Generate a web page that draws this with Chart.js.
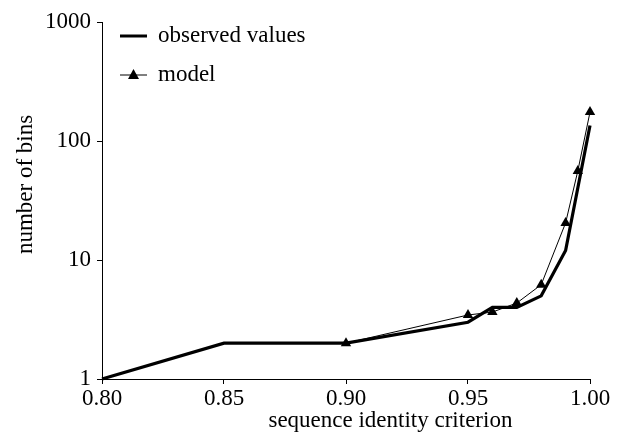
<!DOCTYPE html>
<html lang="en">
<head>
  <meta charset="UTF-8" />
  <title>number of bins vs sequence identity criterion</title>
  <script src="https://cdn.jsdelivr.net/npm/chart.js"></script>
  <style>
    body {
      margin: 0;
      background: #fff;
    }
    .chart-box {
      width: 631px;
      height: 436px;
    }
  </style>
</head>
<body>
  <div class="chart-box">
    <canvas id="binChart"></canvas>
  </div>

  <script>
    // values
    const observedX = [0.80, 0.85, 0.90, 0.95, 0.96, 0.97, 0.98, 0.99, 1.00];
    const observedY = [1, 2, 2, 3, 4, 4, 5, 12, 135];
    const modelX = [0.90, 0.95, 0.96, 0.97, 0.98, 0.99, 0.995, 1.00];
    const modelY = [2, 3.45, 3.65, 4.35, 6.2, 20.5, 56, 175];
    const xTicks = [0.80, 0.85, 0.90, 0.95, 1.00];
    const yTicks = [1, 10, 100, 1000];

    const FONT = '"Liberation Serif", "Times New Roman", serif';
    Chart.defaults.font.family = FONT;
    Chart.defaults.color = '#000';

    const toPoints = (xs, ys) => xs.map((x, i) => ({ x: x, y: ys[i] }));

    // legend + axis titles drawn by hand (the original has them off-centre)
    const extras = {
      id: 'extras',
      afterDatasetsDraw(chart) {
        const c = chart.ctx;
        const a = chart.chartArea;
        const x0 = a.left + 18, x1 = a.left + 45;
        const rows = [
          { y: a.top + 14, text: 'observed values', width: 3, tri: false },
          { y: a.top + 53, text: 'model', width: 1, tri: true }
        ];
        c.save();
        c.strokeStyle = '#000';
        c.fillStyle = '#000';
        c.font = '23px ' + FONT;
        c.textBaseline = 'middle';
        rows.forEach(r => {
          c.lineWidth = r.width;
          c.beginPath();
          c.moveTo(x0, r.y);
          c.lineTo(x1, r.y);
          c.stroke();
          if (r.tri) {
            const cx = (x0 + x1) / 2;
            c.beginPath();
            c.moveTo(cx, r.y - 6);
            c.lineTo(cx + 5.5, r.y + 4);
            c.lineTo(cx - 5.5, r.y + 4);
            c.closePath();
            c.fill();
          }
          c.fillText(r.text, x1 + 11, r.y);
        });

        // x title
        c.textAlign = 'center';
        c.fillText('sequence identity criterion', a.left + (a.right - a.left) * 0.591, a.bottom + 42);

        // y title, rotated
        c.translate(26, a.top + (a.bottom - a.top) * 0.455);
        c.rotate(-Math.PI / 2);
        c.fillText('number of bins', 0, 0);
        c.restore();
      }
    };

    new Chart(document.getElementById('binChart'), {
      type: 'line',
      data: {
        datasets: [
          {
            label: 'observed values',
            data: toPoints(observedX, observedY),
            borderColor: '#000',
            borderWidth: 3.2,
            pointRadius: 0,
            tension: 0,
            clip: false
          },
          {
            label: 'model',
            data: toPoints(modelX, modelY),
            borderColor: '#000',
            backgroundColor: '#000',
            borderWidth: 1,
            pointStyle: 'triangle',
            pointRadius: 6,
            pointBorderWidth: 0,
            tension: 0,
            clip: false
          }
        ]
      },
      options: {
        responsive: true,
        maintainAspectRatio: false,
        animation: false,
        layout: { padding: { top: 22, right: 41, left: 0, bottom: 0 } },
        plugins: {
          legend: { display: false },
          tooltip: { enabled: false }
        },
        scales: {
          x: {
            type: 'linear',
            min: 0.8,
            max: 1.0,
            afterBuildTicks: s => { s.ticks = xTicks.map(v => ({ value: v })); },
            afterFit: s => { s.height = 57; },
            ticks: {
              font: { size: 23 },
              padding: 1,
              maxRotation: 0,
              callback: v => v.toFixed(2)
            },
            grid: { drawOnChartArea: false, tickLength: 5, tickColor: '#000', tickWidth: 1 },
            border: { color: '#000', width: 1 }
          },
          y: {
            type: 'logarithmic',
            min: 1,
            max: 1000,
            afterBuildTicks: s => { s.ticks = yTicks.map(v => ({ value: v })); },
            afterFit: s => { s.width = 102; },
            ticks: {
              font: { size: 23 },
              padding: 6,
              callback: v => String(v)
            },
            grid: { drawOnChartArea: false, tickLength: 5, tickColor: '#000', tickWidth: 1 },
            border: { color: '#000', width: 1 }
          }
        }
      },
      plugins: [extras]
    });
  </script>
</body>
</html>
